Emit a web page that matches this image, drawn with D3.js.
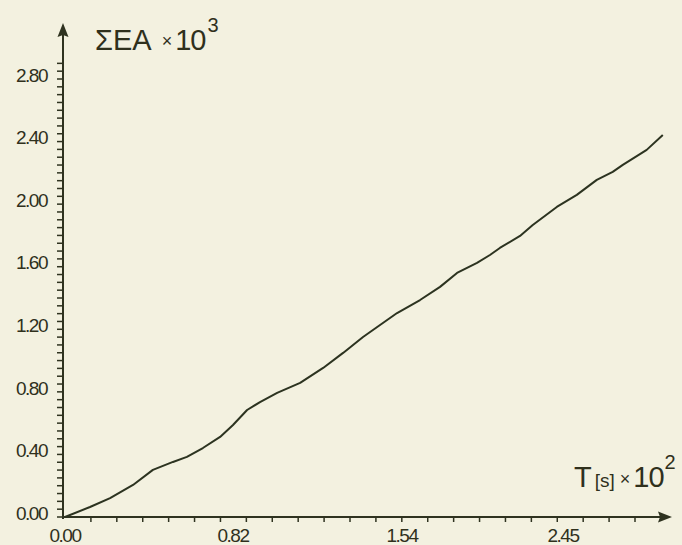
<!DOCTYPE html>
<html>
<head>
<meta charset="utf-8">
<script src="https://cdn.jsdelivr.net/npm/d3@7"></script>
<style>
  body { margin: 0; background: #f3f1e0; }
  svg { display: block; }
  text { fill: #2f301c; font-family: "Liberation Sans Narrow", "Liberation Sans", Arial, sans-serif; }
</style>
</head>
<body>
<div id="chart"></div>
<script>
// values (T in 10^2 s, sum EA in 10^3)
const tValues = [0, 0.122, 0.220, 0.332, 0.429, 0.527, 0.595, 0.673, 0.757, 0.820, 0.880, 0.935,
  1.008, 1.106, 1.204, 1.289, 1.374, 1.519, 1.642, 1.755, 1.851, 1.964, 2.037, 2.093, 2.207,
  2.279, 2.415, 2.528, 2.641, 2.731, 2.788, 2.923, 3.014];
const eaValues = [0, 0.064, 0.121, 0.205, 0.301, 0.352, 0.384, 0.441, 0.512, 0.588, 0.684, 0.735,
  0.793, 0.857, 0.953, 1.049, 1.151, 1.304, 1.387, 1.471, 1.560, 1.624, 1.675, 1.720, 1.797,
  1.867, 1.982, 2.059, 2.155, 2.206, 2.251, 2.347, 2.442];

const xTickLabels = [0, 0.82, 1.54, 2.45];
const yTickLabels = [0, 0.4, 0.8, 1.2, 1.6, 2.0, 2.4, 2.8];

const width = 682, height = 545;
const ink = "#2f3320";

const svg = d3.select("#chart").append("svg")
  .attr("width", width)
  .attr("height", height);

// hand drawn axis: labels are evenly spaced but not linear, so use a polylinear scale
const x = d3.scaleLinear()
  .domain(xTickLabels)
  .range([65, 233, 402, 563]);

const y = d3.scaleLinear()
  .domain([0, 2.8])
  .range([517, 79]);

// minor tick marks along x are evenly spaced
const xMinor = d3.scaleLinear().domain([0, 22]).range([65, 635]);

const g = svg.append("g");

// x axis
g.append("line")
  .attr("x1", 63).attr("x2", 666)
  .attr("y1", 517).attr("y2", 517)
  .attr("stroke", ink).attr("stroke-width", 2);
g.append("path")
  .attr("d", "M672,517 L658,511.5 L660,517 L658,522.5 Z")
  .attr("fill", ink);

g.selectAll(".xminor")
  .data(d3.range(1, 23))
  .join("line")
  .attr("x1", d => xMinor(d)).attr("x2", d => xMinor(d))
  .attr("y1", 517).attr("y2", 522)
  .attr("stroke", ink).attr("stroke-width", 1.5);

g.selectAll(".xlab")
  .data(xTickLabels)
  .join("text")
  .attr("x", d => x(d))
  .attr("y", 542)
  .attr("text-anchor", "middle")
  .attr("font-size", 19)
  .attr("letter-spacing", -1.5)
  .text(d => d.toFixed(2));

// y axis
g.append("line")
  .attr("x1", 63).attr("x2", 63)
  .attr("y1", 519).attr("y2", 30)
  .attr("stroke", ink).attr("stroke-width", 2);
g.append("path")
  .attr("d", "M63,23 L57.5,37 L63,35 L68.5,37 Z")
  .attr("fill", ink);

g.selectAll(".yminor")
  .data(d3.range(0, 59).map(i => i * 0.05))
  .join("line")
  .attr("x1", 57).attr("x2", 63)
  .attr("y1", d => y(d)).attr("y2", d => y(d))
  .attr("stroke", ink).attr("stroke-width", 1.5);

g.selectAll(".ylab")
  .data(yTickLabels)
  .join("text")
  .attr("x", 47)
  .attr("y", d => y(d) - 4)
  .attr("dy", "0.35em")
  .attr("text-anchor", "end")
  .attr("font-size", 19)
  .attr("letter-spacing", -1.5)
  .text(d => d.toFixed(2));

// axis titles
const yTitle = g.append("text")
  .attr("x", 95).attr("y", 50);
yTitle.append("tspan").attr("font-size", 29).text("ΣEA");
yTitle.append("tspan").attr("font-size", 18).attr("dx", 10).attr("dy", -3).text("×");
yTitle.append("tspan").attr("font-size", 29).attr("dx", 3).attr("dy", 3).attr("letter-spacing", -1).text("10");
yTitle.append("tspan").attr("font-size", 20).attr("dx", 2).attr("dy", -18).text("3");

const xTitle = g.append("text")
  .attr("x", 574).attr("y", 487);
xTitle.append("tspan").attr("font-size", 29).text("T");
xTitle.append("tspan").attr("font-size", 19).attr("dx", 3).text("[s]");
xTitle.append("tspan").attr("font-size", 18).attr("dx", 5).attr("dy", -2).text("×");
xTitle.append("tspan").attr("font-size", 29).attr("dx", 3).attr("dy", 2).attr("letter-spacing", -1).text("10");
xTitle.append("tspan").attr("font-size", 20).attr("dx", 1).attr("dy", -18).text("2");

// data curve
const line = d3.line()
  .x(d => x(d[0]))
  .y(d => y(d[1]));

g.append("path")
  .datum(d3.zip(tValues, eaValues))
  .attr("d", line)
  .attr("fill", "none")
  .attr("stroke", "#2c3320")
  .attr("stroke-width", 2)
  .attr("stroke-linejoin", "round");
</script>
</body>
</html>
